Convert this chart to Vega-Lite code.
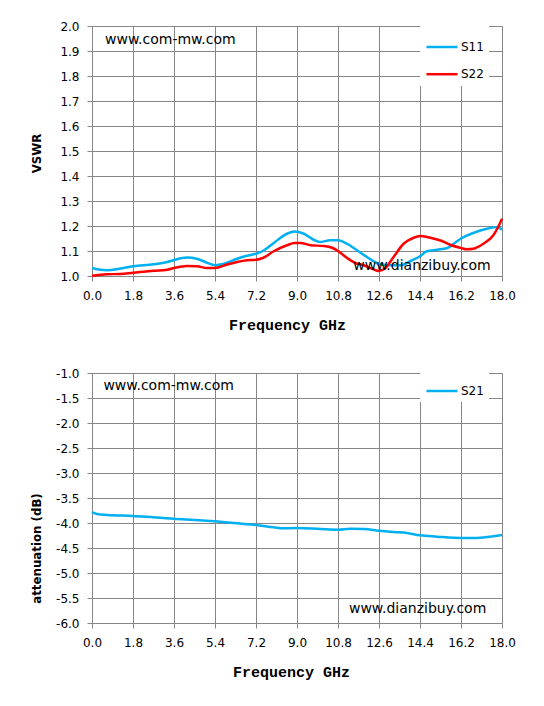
{
  "$schema": "https://vega.github.io/schema/vega-lite/v6.json",
  "padding": {"left": 31, "top": 20, "right": 5, "bottom": 5},
  "spacing": 35,
  "background": "white",
  "config": {
    "view": {"stroke": null},
    "axis": {
      "labelFont": "DejaVu Sans",
      "labelFontSize": 12,
      "labelColor": "#000000",
      "gridColor": "#868686",
      "gridOpacity": 1,
      "gridWidth": 1,
      "domainColor": "#868686",
      "tickColor": "#868686",
      "tickSize": 5,
      "labelFlush": false,
      "labelOverlap": false,
      "titleColor": "#000000"
    },
    "legend": {
      "orient": "none",
      "legendX": 328,
      "legendY": -1,
      "fillColor": "#ffffff",
      "padding": 5,
      "symbolType": "stroke",
      "symbolSize": 961,
      "symbolStrokeWidth": 2.5,
      "labelFont": "DejaVu Sans",
      "labelFontSize": 12,
      "labelColor": "#000000",
      "labelOffset": 2,
      "rowPadding": 4.2,
      "title": null
    }
  },
  "datasets": {
    "vswr": [
      {"s": "S11", "f": 0.0, "v": 1.032},
      {"s": "S11", "f": 0.3, "v": 1.026},
      {"s": "S11", "f": 0.66, "v": 1.023},
      {"s": "S11", "f": 1.2, "v": 1.029},
      {"s": "S11", "f": 1.8, "v": 1.039},
      {"s": "S11", "f": 2.7, "v": 1.047},
      {"s": "S11", "f": 3.3, "v": 1.056},
      {"s": "S11", "f": 3.6, "v": 1.064},
      {"s": "S11", "f": 4.17, "v": 1.074},
      {"s": "S11", "f": 4.6, "v": 1.069},
      {"s": "S11", "f": 5.05, "v": 1.053},
      {"s": "S11", "f": 5.4, "v": 1.043},
      {"s": "S11", "f": 5.8, "v": 1.049},
      {"s": "S11", "f": 6.37, "v": 1.069},
      {"s": "S11", "f": 6.8, "v": 1.081},
      {"s": "S11", "f": 7.2, "v": 1.089},
      {"s": "S11", "f": 7.5, "v": 1.1},
      {"s": "S11", "f": 7.98, "v": 1.132},
      {"s": "S11", "f": 8.56, "v": 1.169},
      {"s": "S11", "f": 8.9, "v": 1.178},
      {"s": "S11", "f": 9.3, "v": 1.169},
      {"s": "S11", "f": 9.73, "v": 1.145},
      {"s": "S11", "f": 10.0, "v": 1.136},
      {"s": "S11", "f": 10.46, "v": 1.143},
      {"s": "S11", "f": 10.8, "v": 1.143},
      {"s": "S11", "f": 11.2, "v": 1.129},
      {"s": "S11", "f": 11.6, "v": 1.105},
      {"s": "S11", "f": 12.07, "v": 1.076},
      {"s": "S11", "f": 12.5, "v": 1.052},
      {"s": "S11", "f": 12.95, "v": 1.043},
      {"s": "S11", "f": 13.54, "v": 1.043},
      {"s": "S11", "f": 14.05, "v": 1.063},
      {"s": "S11", "f": 14.4, "v": 1.079},
      {"s": "S11", "f": 14.7, "v": 1.099},
      {"s": "S11", "f": 15.15, "v": 1.105},
      {"s": "S11", "f": 15.6, "v": 1.112},
      {"s": "S11", "f": 15.9, "v": 1.13},
      {"s": "S11", "f": 16.2, "v": 1.15},
      {"s": "S11", "f": 16.74, "v": 1.172},
      {"s": "S11", "f": 17.33, "v": 1.189},
      {"s": "S11", "f": 17.7, "v": 1.195},
      {"s": "S11", "f": 17.9, "v": 1.192},
      {"s": "S11", "f": 18.0, "v": 1.185},
      {"s": "S22", "f": 0.0, "v": 1.001},
      {"s": "S22", "f": 0.66, "v": 1.007},
      {"s": "S22", "f": 1.24, "v": 1.008},
      {"s": "S22", "f": 1.8, "v": 1.013},
      {"s": "S22", "f": 2.7, "v": 1.021},
      {"s": "S22", "f": 3.3, "v": 1.025},
      {"s": "S22", "f": 3.6, "v": 1.032},
      {"s": "S22", "f": 4.17, "v": 1.04},
      {"s": "S22", "f": 4.6, "v": 1.039},
      {"s": "S22", "f": 5.05, "v": 1.032},
      {"s": "S22", "f": 5.4, "v": 1.032},
      {"s": "S22", "f": 5.9, "v": 1.045},
      {"s": "S22", "f": 6.37, "v": 1.056},
      {"s": "S22", "f": 6.8, "v": 1.063},
      {"s": "S22", "f": 7.2, "v": 1.065},
      {"s": "S22", "f": 7.5, "v": 1.072},
      {"s": "S22", "f": 7.98, "v": 1.099},
      {"s": "S22", "f": 8.56, "v": 1.123},
      {"s": "S22", "f": 8.9, "v": 1.132},
      {"s": "S22", "f": 9.15, "v": 1.132},
      {"s": "S22", "f": 9.6, "v": 1.123},
      {"s": "S22", "f": 10.17, "v": 1.12},
      {"s": "S22", "f": 10.54, "v": 1.113},
      {"s": "S22", "f": 10.8, "v": 1.1},
      {"s": "S22", "f": 11.2, "v": 1.072},
      {"s": "S22", "f": 11.56, "v": 1.052},
      {"s": "S22", "f": 11.93, "v": 1.043},
      {"s": "S22", "f": 12.3, "v": 1.029},
      {"s": "S22", "f": 12.6, "v": 1.02},
      {"s": "S22", "f": 12.88, "v": 1.032},
      {"s": "S22", "f": 13.24, "v": 1.076},
      {"s": "S22", "f": 13.68, "v": 1.129},
      {"s": "S22", "f": 14.12, "v": 1.153},
      {"s": "S22", "f": 14.41, "v": 1.16},
      {"s": "S22", "f": 14.85, "v": 1.153},
      {"s": "S22", "f": 15.3, "v": 1.142},
      {"s": "S22", "f": 15.72, "v": 1.125},
      {"s": "S22", "f": 16.2, "v": 1.112},
      {"s": "S22", "f": 16.45, "v": 1.107},
      {"s": "S22", "f": 16.74, "v": 1.109},
      {"s": "S22", "f": 17.18, "v": 1.129},
      {"s": "S22", "f": 17.62, "v": 1.163},
      {"s": "S22", "f": 17.9, "v": 1.209},
      {"s": "S22", "f": 18.0, "v": 1.229}
    ],
    "s21": [
      {"s": "S21", "f": 0.0, "v": -3.78},
      {"s": "S21", "f": 0.22, "v": -3.82},
      {"s": "S21", "f": 0.66, "v": -3.84},
      {"s": "S21", "f": 1.8, "v": -3.86},
      {"s": "S21", "f": 2.7, "v": -3.887},
      {"s": "S21", "f": 3.6, "v": -3.913},
      {"s": "S21", "f": 5.4, "v": -3.967},
      {"s": "S21", "f": 6.37, "v": -4.007},
      {"s": "S21", "f": 7.2, "v": -4.04},
      {"s": "S21", "f": 7.98, "v": -4.087},
      {"s": "S21", "f": 8.4, "v": -4.107},
      {"s": "S21", "f": 9.0, "v": -4.1},
      {"s": "S21", "f": 10.02, "v": -4.12},
      {"s": "S21", "f": 10.8, "v": -4.133},
      {"s": "S21", "f": 11.34, "v": -4.113},
      {"s": "S21", "f": 11.93, "v": -4.12},
      {"s": "S21", "f": 12.6, "v": -4.153},
      {"s": "S21", "f": 13.24, "v": -4.18},
      {"s": "S21", "f": 13.83, "v": -4.2},
      {"s": "S21", "f": 14.4, "v": -4.247},
      {"s": "S21", "f": 15.15, "v": -4.273},
      {"s": "S21", "f": 16.2, "v": -4.3},
      {"s": "S21", "f": 16.9, "v": -4.3},
      {"s": "S21", "f": 17.63, "v": -4.267},
      {"s": "S21", "f": 18.0, "v": -4.24}
    ],
    "notesTop": [
      {"f": 0.57, "v": 1.946, "t": "www.com-mw.com"},
      {"f": 11.47, "v": 1.042, "t": "www.dianzibuy.com"}
    ],
    "notesBottom": [
      {"f": 0.5, "v": -1.25, "t": "www.com-mw.com"},
      {"f": 11.28, "v": -5.71, "t": "www.dianzibuy.com"}
    ]
  },
  "resolve": {"scale": {"color": "independent", "y": "independent"}, "legend": {"color": "independent"}},
  "vconcat": [
    {
      "width": 410,
      "height": 250,
      "layer": [
        {
          "data": {"name": "vswr"},
          "mark": {"type": "line", "interpolate": "monotone", "strokeWidth": 2.5},
          "encoding": {
            "x": {
              "field": "f", "type": "quantitative",
              "scale": {"domain": [0, 18], "nice": false, "zero": false},
              "axis": {
                "values": [0, 1.8, 3.6, 5.4, 7.2, 9, 10.8, 12.6, 14.4, 16.2, 18],
                "tickCount": 11,
                "format": ".1f",
                "labelPadding": 9,
                "title": "Frequency GHz",
                "titleFont": "Liberation Mono",
                "titleFontWeight": "bold",
                "titleFontSize": 15,
                "titleX": 195,
                "titleY": 53,
                "titleAlign": "center",
                "titleBaseline": "alphabetic"
              }
            },
            "y": {
              "field": "v", "type": "quantitative",
              "scale": {"domain": [1, 2], "nice": false, "zero": false},
              "axis": {
                "values": [1.0, 1.1, 1.2, 1.3, 1.4, 1.5, 1.6, 1.7, 1.8, 1.9, 2.0],
                "tickCount": 11,
                "format": ".1f",
                "labelPadding": 8,
                "title": "VSWR",
                "titleFont": "DejaVu Sans",
                "titleFontWeight": "bold",
                "titleFontSize": 11.8,
                "titleX": -56,
                "titleY": 127,
                "titleAlign": "center",
                "titleBaseline": "middle",
                "titleAngle": -90
              }
            },
            "color": {
              "field": "s", "type": "nominal",
              "scale": {"domain": ["S11", "S22"], "range": ["#00B0F0", "#FF0000"]},
              "legend": {"title": null, "legendY": -1}
            }
          }
        },
        {
          "data": {"name": "notesTop"},
          "mark": {"type": "text", "align": "left", "baseline": "middle", "font": "DejaVu Sans", "fontSize": 14, "color": "#000000"},
          "encoding": {
            "x": {"field": "f", "type": "quantitative"},
            "y": {"field": "v", "type": "quantitative"},
            "text": {"field": "t"}
          }
        }
      ]
    },
    {
      "width": 410,
      "height": 250,
      "layer": [
        {
          "data": {"name": "s21"},
          "mark": {"type": "line", "interpolate": "monotone", "strokeWidth": 2.5},
          "encoding": {
            "x": {
              "field": "f", "type": "quantitative",
              "scale": {"domain": [0, 18], "nice": false, "zero": false},
              "axis": {
                "values": [0, 1.8, 3.6, 5.4, 7.2, 9, 10.8, 12.6, 14.4, 16.2, 18],
                "tickCount": 11,
                "format": ".1f",
                "labelPadding": 9,
                "title": "Frequency GHz",
                "titleFont": "Liberation Mono",
                "titleFontWeight": "bold",
                "titleFontSize": 15,
                "titleX": 199,
                "titleY": 53,
                "titleAlign": "center",
                "titleBaseline": "alphabetic"
              }
            },
            "y": {
              "field": "v", "type": "quantitative",
              "scale": {"domain": [-6, -1], "nice": false, "zero": false},
              "axis": {
                "values": [-6, -5.5, -5, -4.5, -4, -3.5, -3, -2.5, -2, -1.5, -1],
                "tickCount": 11,
                "labelExpr": "replace(format(datum.value, '.1f'), '\u2212', '-')",
                "labelPadding": 8,
                "title": "attenuation (dB)",
                "titleFont": "DejaVu Sans",
                "titleFontWeight": "bold",
                "titleFontSize": 11.8,
                "titleX": -56,
                "titleY": 175,
                "titleAlign": "center",
                "titleBaseline": "middle",
                "titleAngle": -90
              }
            },
            "color": {
              "field": "s", "type": "nominal",
              "scale": {"domain": ["S21"], "range": ["#00B0F0"]},
              "legend": {"title": null, "legendY": -4}
            }
          }
        },
        {
          "data": {"name": "notesBottom"},
          "mark": {"type": "text", "align": "left", "baseline": "middle", "font": "DejaVu Sans", "fontSize": 14, "color": "#000000"},
          "encoding": {
            "x": {"field": "f", "type": "quantitative"},
            "y": {"field": "v", "type": "quantitative"},
            "text": {"field": "t"}
          }
        }
      ]
    }
  ]
}
